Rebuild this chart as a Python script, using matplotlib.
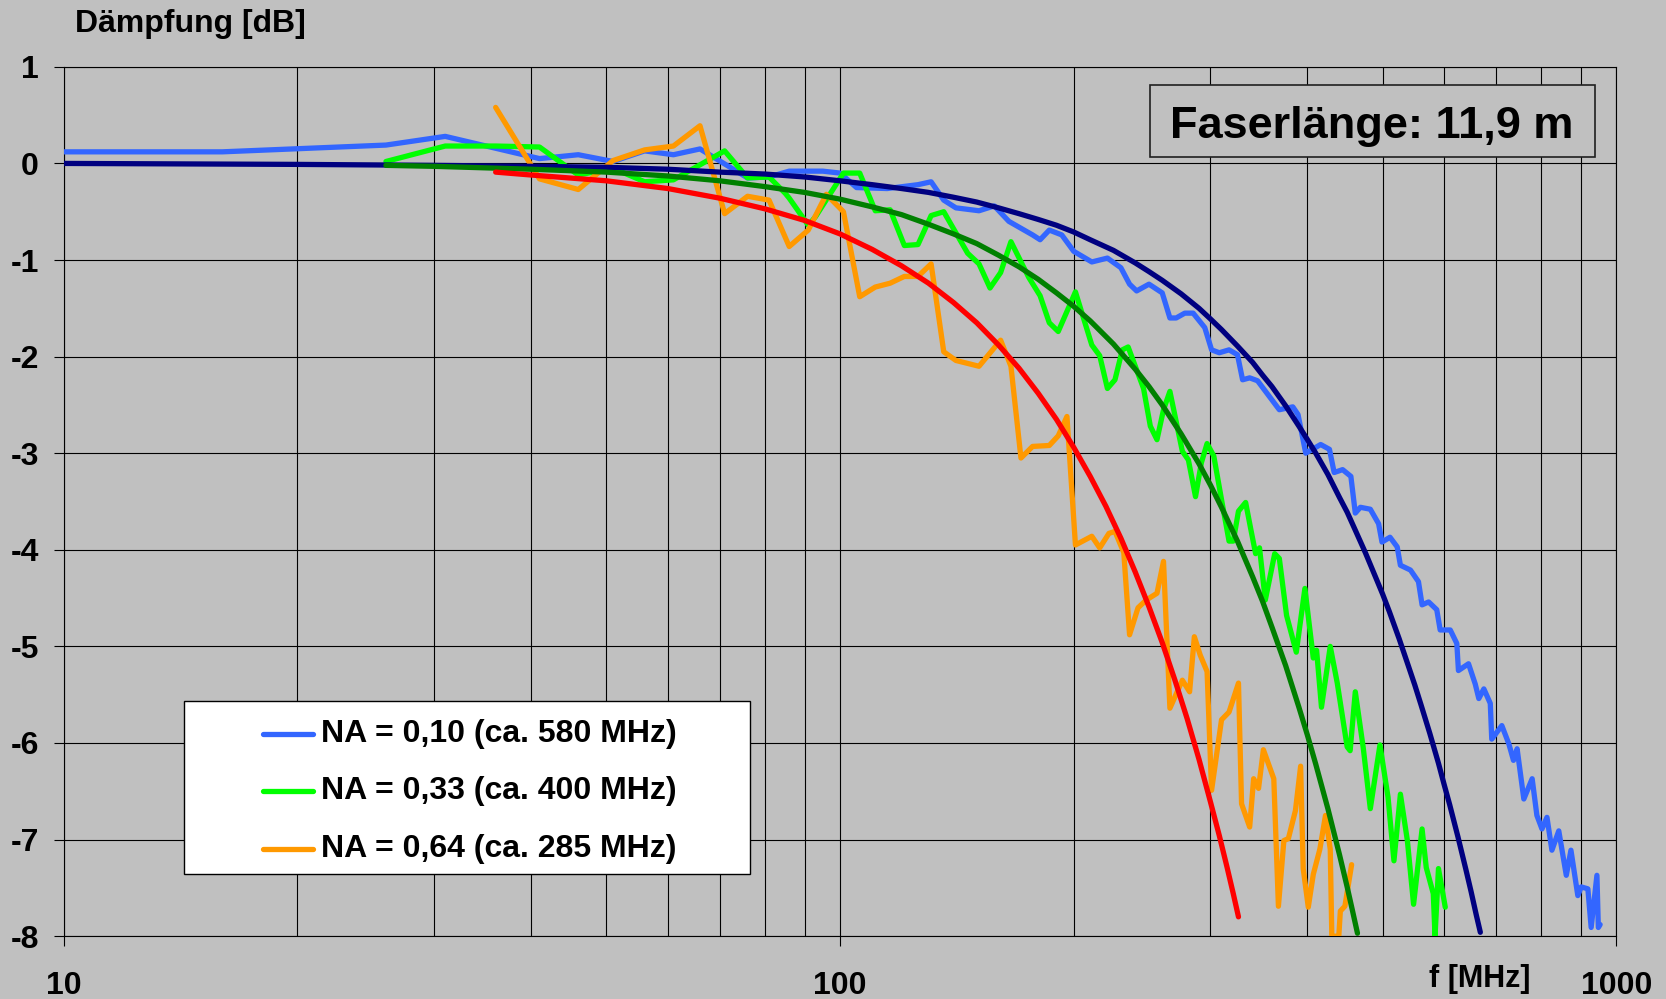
import matplotlib.pyplot as plt
import matplotlib.patches as patches
from matplotlib.ticker import NullFormatter

plt.rcParams['font.family'] = ['Liberation Sans', 'DejaVu Sans']
plt.rcParams['font.weight'] = 'bold'
plt.rcParams['axes.unicode_minus'] = False

# measured attenuation, NA = 0.10
f_na10 = [10, 16, 26, 31, 41, 46, 51, 56, 61, 66, 76, 81, 86, 95, 100, 105, 115, 126, 131,
          136, 141, 151, 158, 165, 177, 181, 186, 193, 200, 211, 221, 230, 236, 241, 250,
          260, 266, 271, 278, 285, 295, 301, 308, 317, 325, 330, 337, 345, 368, 383, 389,
          398, 416, 427, 433, 444, 455, 461, 468, 482, 494, 499, 511, 522, 527, 543, 556,
          562, 573, 587, 593, 611, 623, 626, 645, 658, 665, 675, 688, 691, 712, 727, 737,
          745, 760, 779, 790, 802, 814, 826, 843, 862, 874, 892, 901, 919, 928, 944, 948, 953]
db_na10 = [0.12, 0.12, 0.19, 0.28, 0.05, 0.09, 0.02, 0.13, 0.09, 0.15, -0.15, -0.14, -0.08,
           -0.08, -0.10, -0.25, -0.26, -0.22, -0.19, -0.38, -0.46, -0.49, -0.44, -0.60, -0.74,
           -0.79, -0.69, -0.74, -0.91, -1.02, -0.98, -1.08, -1.25, -1.32, -1.25, -1.34, -1.60,
           -1.60, -1.55, -1.55, -1.70, -1.93, -1.96, -1.93, -1.98, -2.24, -2.22, -2.25, -2.55,
           -2.52, -2.60, -3.00, -2.91, -2.96, -3.20, -3.17, -3.24, -3.62, -3.56, -3.58, -3.73,
           -3.92, -3.87, -3.97, -4.16, -4.21, -4.33, -4.57, -4.54, -4.62, -4.83, -4.83, -4.97,
           -5.25, -5.18, -5.39, -5.54, -5.44, -5.59, -5.96, -5.82, -6.01, -6.18, -6.06, -6.58,
           -6.37, -6.75, -6.89, -6.77, -7.11, -6.91, -7.37, -7.11, -7.58, -7.49, -7.51, -7.91,
           -7.37, -7.91, -7.88]

# measured attenuation, NA = 0.33
f_na33 = [26, 31, 36, 41, 46, 51, 56, 61, 71, 76, 81, 85, 86, 91, 93, 101, 106, 111, 116, 121,
          126, 131, 136, 146, 151, 156, 161, 166, 175, 181, 186, 191, 201, 211, 216, 221, 226,
          231, 235, 246, 251, 256, 261, 266, 276, 281, 287, 292, 297, 303, 310, 317, 321, 326,
          333, 338, 343, 347, 353, 363, 368, 376, 387, 397, 407, 411, 417, 428, 437, 450, 454,
          461, 472, 482, 496, 508, 517, 527, 538, 548, 562, 569, 581, 584, 590, 602]
db_na33 = [0.02, 0.18, 0.18, 0.17, -0.12, -0.05, -0.19, -0.17, 0.13, -0.15, -0.14, -0.31, -0.36,
           -0.64, -0.55, -0.10, -0.10, -0.49, -0.48, -0.85, -0.84, -0.54, -0.50, -0.93, -1.04,
           -1.29, -1.13, -0.81, -1.18, -1.37, -1.65, -1.74, -1.33, -1.88, -1.99, -2.33, -2.24,
           -1.93, -1.90, -2.33, -2.72, -2.86, -2.55, -2.36, -2.98, -3.07, -3.45, -3.10, -2.90,
           -3.03, -3.48, -3.91, -3.91, -3.60, -3.51, -3.78, -4.04, -3.98, -4.52, -4.04, -4.09,
           -4.68, -5.06, -4.40, -5.12, -5.04, -5.63, -5.00, -5.38, -6.04, -6.08, -5.47, -6.05,
           -6.68, -6.02, -6.56, -7.22, -6.53, -7.01, -7.67, -6.89, -7.29, -7.56, -8.00, -7.30,
           -7.70]

# measured attenuation, NA = 0.64
f_na64 = [36, 41, 46, 51, 56, 61, 66, 71, 76, 81, 86, 91, 96, 101, 106, 111, 116, 121, 126,
          131, 136, 141, 151, 161, 166, 171, 177, 186, 191, 196, 201, 211, 216, 222, 226, 232,
          236, 242, 248, 256, 261, 266, 276, 282, 286, 291, 297, 301, 310, 317, 326, 329, 337,
          341, 346, 351, 362, 367, 373, 378, 386, 392, 395, 401, 407, 415, 422, 428, 430, 439,
          441, 447, 456]
db_na64 = [0.58, -0.16, -0.27, 0.03, 0.14, 0.18, 0.39, -0.52, -0.34, -0.38, -0.86, -0.69, -0.32,
           -0.50, -1.38, -1.28, -1.24, -1.17, -1.17, -1.04, -1.95, -2.04, -2.10, -1.83, -2.10,
           -3.05, -2.93, -2.92, -2.82, -2.62, -3.95, -3.86, -3.98, -3.83, -3.81, -4.03, -4.88,
           -4.60, -4.52, -4.45, -4.12, -5.64, -5.35, -5.47, -4.90, -5.09, -5.26, -6.49, -5.76,
           -5.68, -5.38, -6.63, -6.87, -6.37, -6.47, -6.07, -6.37, -7.69, -7.01, -6.99, -6.70,
           -6.24, -7.30, -7.70, -7.36, -7.10, -6.75, -7.10, -8.00, -8.00, -7.74, -7.69, -7.26]

# fitted curves
f_fit10 = [10, 20, 30, 40, 50, 60, 70, 80, 90, 100, 110, 120, 130, 140, 150, 160, 170, 180,
           190, 200, 210, 225, 240, 250, 260, 275, 290, 300, 310, 325, 340, 350, 360, 375,
           390, 400, 410, 425, 440, 450, 460, 475, 490, 500, 510, 525, 540, 550, 560, 575,
           590, 600, 610, 625, 640, 650, 660, 668]
db_fit10 = [0.00, -0.01, -0.02, -0.03, -0.04, -0.06, -0.09, -0.11, -0.14, -0.18, -0.22, -0.26,
            -0.30, -0.35, -0.40, -0.46, -0.52, -0.58, -0.64, -0.71, -0.79, -0.90, -1.03, -1.12,
            -1.21, -1.35, -1.50, -1.61, -1.72, -1.89, -2.06, -2.19, -2.31, -2.51, -2.72, -2.86,
            -3.00, -3.22, -3.46, -3.61, -3.78, -4.03, -4.29, -4.46, -4.64, -4.92, -5.21, -5.40,
            -5.60, -5.90, -6.21, -6.43, -6.64, -6.97, -7.31, -7.54, -7.78, -7.96]

f_fit33 = [26, 30, 40, 50, 60, 70, 80, 90, 100, 110, 120, 130, 140, 150, 160, 170, 180, 190,
           200, 210, 225, 240, 250, 260, 275, 290, 300, 310, 325, 340, 350, 360, 375, 390,
           400, 410, 425, 440, 450, 457, 464]
db_fit33 = [-0.02, -0.03, -0.06, -0.09, -0.13, -0.18, -0.24, -0.30, -0.37, -0.45, -0.53, -0.63,
            -0.73, -0.83, -0.95, -1.07, -1.20, -1.34, -1.48, -1.63, -1.87, -2.13, -2.31, -2.50,
            -2.80, -3.11, -3.33, -3.56, -3.91, -4.28, -4.53, -4.80, -5.20, -5.63, -5.92, -6.22,
            -6.68, -7.16, -7.49, -7.73, -7.97]

f_fit64 = [36, 40, 50, 60, 70, 80, 90, 100, 110, 120, 130, 140, 150, 160, 170, 180, 190, 200,
           210, 220, 230, 240, 250, 260, 270, 280, 290, 300, 308, 315, 321, 326]
db_fit64 = [-0.09, -0.12, -0.18, -0.26, -0.36, -0.47, -0.59, -0.73, -0.89, -1.06, -1.24, -1.44,
            -1.65, -1.88, -2.12, -2.38, -2.65, -2.94, -3.24, -3.55, -3.88, -4.23, -4.59, -4.96,
            -5.35, -5.75, -6.17, -6.61, -6.96, -7.28, -7.56, -7.80]

legend_labels = ['NA = 0,10 (ca. 580 MHz)', 'NA = 0,33 (ca. 400 MHz)', 'NA = 0,64 (ca. 285 MHz)']
xticks = [10, 100, 1000]
xticklabels = ['10', '100', '1000']
xminor = [20, 30, 40, 50, 60, 70, 80, 90, 200, 300, 400, 500, 600, 700, 800, 900]
yticks = [1, 0, -1, -2, -3, -4, -5, -6, -7, -8]
yticklabels = ['1', '0', '-1', '-2', '-3', '-4', '-5', '-6', '-7', '-8']

bg = '#C0C0C0'
c_meas = ['#3366FF', '#00FF00', '#FF9900']
c_fit = ['#000080', '#008000', '#FF0000']

fig = plt.figure(figsize=(16.66, 9.99), dpi=100, facecolor=bg)
ax = fig.add_axes([0.0383, 0.0629, 0.9319, 0.8702])
ax.set_facecolor(bg)
ax.set_xscale('log')

lw = 3.8
for f, d, c in zip([f_na10, f_na33, f_na64], [db_na10, db_na33, db_na64], c_meas):
    ax.plot(f, d, color=c, lw=lw, solid_joinstyle='round', solid_capstyle='round', zorder=3)
for f, d, c in zip([f_fit10, f_fit33, f_fit64], [db_fit10, db_fit33, db_fit64], c_fit):
    ax.plot(f, d, color=c, lw=lw, solid_joinstyle='round', solid_capstyle='round', zorder=4)

ax.set_xlim(10, 1000)
ax.set_ylim(-8, 1)
ax.set_xticks(xticks, xticklabels)
ax.set_xticks(xminor, minor=True)
ax.xaxis.set_minor_formatter(NullFormatter())
ax.set_yticks(yticks, yticklabels)
ax.grid(True, which='both', color='black', lw=0.8, zorder=1)
ax.set_axisbelow(True)
ax.tick_params(which='major', length=7, width=0.8, labelsize=23, direction='out')
ax.tick_params(axis='x', which='minor', length=0)
ax.tick_params(axis='x', pad=18)
ax.tick_params(axis='y', pad=11)
for s in ax.spines.values():
    s.set_color('black')
    s.set_linewidth(0.8)

# legend box
ax.add_patch(patches.Rectangle((0.0775, 0.0715), 0.3645, 0.199, transform=ax.transAxes,
                               facecolor='white', edgecolor='black', lw=1, zorder=6))
rows = [0.2330, 0.1672, 0.1006]
for y, c, lab in zip(rows, c_meas, legend_labels):
    ax.plot([0.1283, 0.1605], [y, y], color=c, lw=lw, transform=ax.transAxes,
            solid_capstyle='round', zorder=7)
    ax.text(0.1655, y, lab, transform=ax.transAxes, fontsize=23, va='center', ha='left', zorder=7)

# fibre length box
ax.add_patch(patches.Rectangle((0.6996, 0.8963), 0.2866, 0.0827, transform=ax.transAxes,
                               facecolor=bg, edgecolor='#202020', lw=1.2, zorder=6))
ax.text(0.8427, 0.9310, 'Faserlänge: 11,9 m', transform=ax.transAxes, fontsize=32.5,
        ha='center', va='center', zorder=7)

fig.text(0.045, 0.976, 'Dämpfung [dB]', fontsize=23, ha='left', va='center')
fig.text(0.8884, 0.012, 'f [MHz]', fontsize=22, ha='center', va='baseline')

fig.savefig('out.png', dpi=100, facecolor=bg)
